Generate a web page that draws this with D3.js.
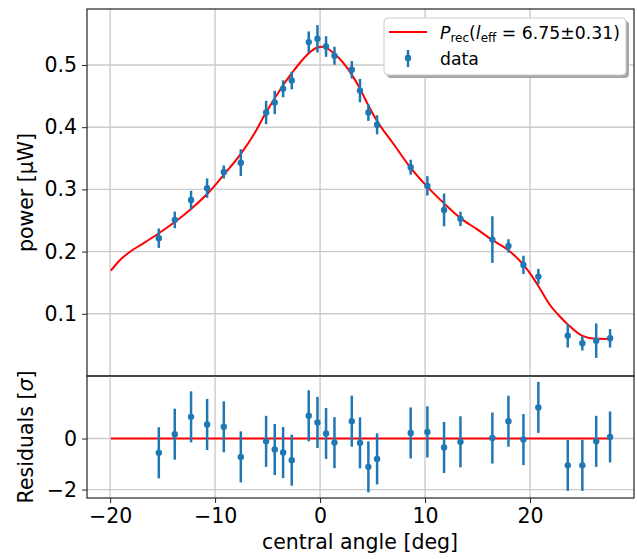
<!DOCTYPE html>
<html>
<head>
<meta charset="utf-8">
<script src="https://cdn.jsdelivr.net/npm/d3@7"></script>
<style>
  body { margin: 0; background: #fff; }
  text { font-family: "DejaVu Sans", sans-serif; fill: #000; }
</style>
</head>
<body>
<svg width="637" height="559"></svg>
<script>
// measured points
const angle = [-15.36, -13.84, -12.29, -10.76, -9.17, -7.55, -5.14, -4.32, -3.52, -2.70,
    -1.08, -0.25, 0.57, 1.37, 3.02, 3.80, 4.60, 5.43, 8.63, 10.22,
    11.81, 13.37, 16.41, 17.94, 19.37, 20.79, 23.59, 24.98, 26.30, 27.62];
const power = [0.2215, 0.251, 0.283, 0.302, 0.328, 0.343, 0.4236, 0.4397, 0.4617, 0.475,
    0.5368, 0.5421, 0.5297, 0.5148, 0.4923, 0.4588, 0.4236, 0.4038, 0.3357, 0.3057,
    0.267, 0.2526, 0.2193, 0.2091, 0.1786, 0.1598, 0.0648, 0.0526, 0.0568, 0.0606];
const powerErr = [0.0156, 0.0134, 0.0148, 0.0156, 0.0105, 0.0215, 0.0188, 0.0188, 0.0137, 0.0142,
    0.0172, 0.022, 0.0166, 0.0145, 0.014, 0.0188, 0.0134, 0.0153, 0.012, 0.0156,
    0.0263, 0.0116, 0.0375, 0.0107, 0.0148, 0.0124, 0.019, 0.0116, 0.0277, 0.0148];
const residual = [-0.56, 0.17, 0.85, 0.55, 0.46, -0.72, -0.11, -0.43, -0.55, -0.85,
    0.89, 0.63, 0.20, -0.16, 0.68, -0.17, -1.11, -0.80, 0.22, 0.26,
    -0.35, -0.13, 0.02, 0.68, -0.04, 1.22, -1.05, -1.05, -0.11, 0.06];
const residualErr = angle.map(() => 1);

// fitted curve P_rec
const fitAngle = [-19.93, -19.05, -18.1, -16.83, -15.36, -13.84, -12.29, -10.76, -9.17, -7.55,
    -6.3, -5.14, -4.32, -3.52, -2.70, -1.9, -1.08, -0.25, 0.2, 0.57,
    1.37, 3.02, 3.8, 4.6, 5.43, 7.0, 8.63, 10.22, 11.81, 13.37,
    14.9, 16.41, 17.94, 19.37, 20.0, 20.79, 21.9, 22.86, 23.59, 24.98,
    26.3, 27.62];
const fitPower = [0.1693, 0.1865, 0.1998, 0.2133, 0.2295, 0.2475, 0.2685, 0.2925, 0.3235, 0.3570,
    0.3885, 0.4240, 0.4465, 0.4675, 0.4865, 0.5040, 0.5190, 0.5282, 0.5295, 0.5275,
    0.5180, 0.4845, 0.4617, 0.4350, 0.4100, 0.373, 0.3345, 0.3040, 0.2775, 0.2538,
    0.2365, 0.2186, 0.2022, 0.1788, 0.1651, 0.1447, 0.1141, 0.0953, 0.0830, 0.0645,
    0.0597, 0.0596];

const xTicks = [-20, -10, 0, 10, 20];
const powerTicks = [0.1, 0.2, 0.3, 0.4, 0.5];
const residualTicks = [-2, 0];

const svg = d3.select('svg');
const blue = '#1f77b4';
const left = 87, right = 634;

const x = d3.scaleLinear().domain([-22.2, 29.9]).range([left, right]);
const yTop = d3.scaleLinear().domain([0, 0.59]).range([376, 9]);
const yRes = d3.scaleLinear().domain([-2.33, 2.45]).range([498, 376]);

function panel(y, ticks, fmt, xs, ys, es, fitX, fitY) {
    const g = svg.append('g');
    const [y0, y1] = y.range();

    // grid
    g.selectAll('.gx').data(xTicks).enter().append('line')
        .attr('x1', d => x(d)).attr('x2', d => x(d))
        .attr('y1', y1).attr('y2', y0)
        .attr('stroke', '#cbcbcb').attr('stroke-width', 1.4);
    g.selectAll('.gy').data(ticks).enter().append('line')
        .attr('x1', left).attr('x2', right)
        .attr('y1', d => y(d)).attr('y2', d => y(d))
        .attr('stroke', '#cbcbcb').attr('stroke-width', 1.4);

    // fit line
    g.append('path')
        .datum(fitX.map((d, i) => [d, fitY[i]]))
        .attr('d', d3.line().x(d => x(d[0])).y(d => y(d[1])).curve(d3.curveMonotoneX))
        .attr('fill', 'none').attr('stroke', '#ff0000').attr('stroke-width', 2);

    // error bars
    g.selectAll('.eb').data(xs).enter().append('line')
        .attr('x1', d => x(d)).attr('x2', d => x(d))
        .attr('y1', (d, i) => y(ys[i] - es[i]))
        .attr('y2', (d, i) => y(ys[i] + es[i]))
        .attr('stroke', blue).attr('stroke-width', 2.5);
    g.selectAll('.pt').data(xs).enter().append('circle')
        .attr('cx', d => x(d)).attr('cy', (d, i) => y(ys[i]))
        .attr('r', 3.2).attr('fill', blue);

    // y axis
    const ay = g.append('g').attr('transform', `translate(${left},0)`)
        .call(d3.axisLeft(y).tickValues(ticks).tickFormat(fmt).tickSize(5).tickPadding(5));
    ay.select('.domain').remove();
    ay.selectAll('line').attr('stroke', '#222');
    ay.selectAll('text').attr('font-size', '20.5px').attr('font-family', 'DejaVu Sans');

    // frame
    g.append('rect').attr('x', left).attr('y', y1)
        .attr('width', right - left).attr('height', y0 - y1)
        .attr('fill', 'none').attr('stroke', '#222').attr('stroke-width', 1.2);
    return g;
}

panel(yTop, powerTicks, d3.format('.1f'), angle, power, powerErr, fitAngle, fitPower);
const res = panel(yRes, residualTicks, d3.format('d'), angle, residual, residualErr,
    [fitAngle[0], fitAngle[fitAngle.length - 1]], [0, 0]);

// x axis under residuals
const ax = res.append('g').attr('transform', 'translate(0,498)')
    .call(d3.axisBottom(x).tickValues(xTicks).tickSize(5).tickPadding(5));
ax.select('.domain').remove();
ax.selectAll('line').attr('stroke', '#222');
ax.selectAll('text').attr('font-size', '20.5px').attr('font-family', 'DejaVu Sans');

// labels
svg.append('text').attr('x', 360).attr('y', 549).attr('text-anchor', 'middle')
    .attr('font-size', '20.5px').text('central angle [deg]');
svg.append('text').attr('transform', 'translate(33,192.5) rotate(-90)')
    .attr('text-anchor', 'middle').attr('font-size', '20.5px').text('power [µW]');
const rl = svg.append('text').attr('transform', 'translate(33,437) rotate(-90)')
    .attr('text-anchor', 'middle').attr('font-size', '20.5px');
rl.append('tspan').text('Residuals [');
rl.append('tspan').attr('font-style', 'italic').text('σ');
rl.append('tspan').text(']');

// legend
const lg = svg.append('g');
lg.append('rect').attr('x', 387).attr('y', 21).attr('width', 242).attr('height', 57)
    .attr('rx', 4).attr('fill', '#a6a6a6');
lg.append('rect').attr('x', 384).attr('y', 18).attr('width', 242).attr('height', 57)
    .attr('rx', 4).attr('fill', '#fff').attr('stroke', '#cccccc');
lg.append('line').attr('x1', 389).attr('x2', 427).attr('y1', 32).attr('y2', 32)
    .attr('stroke', '#ff0000').attr('stroke-width', 2);
lg.append('line').attr('x1', 408).attr('x2', 408).attr('y1', 50).attr('y2', 67)
    .attr('stroke', blue).attr('stroke-width', 2.5);
lg.append('circle').attr('cx', 408).attr('cy', 58).attr('r', 3.2).attr('fill', blue);

const t = lg.append('text').attr('x', 440).attr('y', 39).attr('font-size', '17.3px');
t.append('tspan').attr('font-style', 'italic').text('P');
t.append('tspan').attr('font-size', '12px').attr('dy', 3).text('rec');
t.append('tspan').attr('dy', -3).text('(');
t.append('tspan').attr('font-style', 'italic').text('l');
t.append('tspan').attr('font-size', '12px').attr('dy', 3).text('eff');
t.append('tspan').attr('dy', -3).text(' = 6.75±0.31)');
lg.append('text').attr('x', 440).attr('y', 65).attr('font-size', '17.3px').text('data');
</script>
</body>
</html>
